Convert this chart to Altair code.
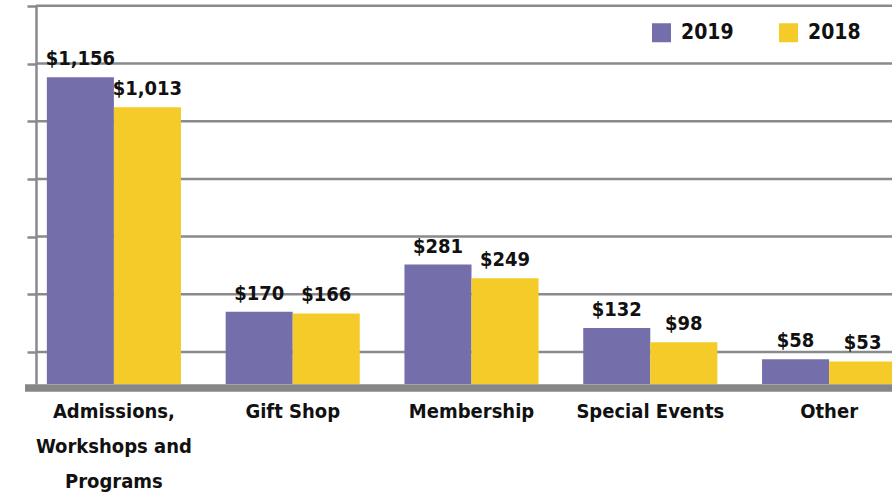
import altair as alt
import pandas as pd

categories = ["Admissions,|Workshops and|Programs", "Gift Shop", "Membership", "Special Events", "Other"]
years = ["2019", "2018"]
values_2019 = [1156, 170, 281, 132, 58]
values_2018 = [1013, 166, 249, 98, 53]
grid_ticks = [0, 1, 2, 3, 4, 5, 6]

PURPLE = "#746eab"
YELLOW = "#f5cb29"
GRAY = "#8a8a8c"
FONT = "DejaVu Sans Condensed"

rows = []
for c, a, b in zip(categories, values_2019, values_2018):
    rows.append({"category": c, "year": "2019", "value": a})
    rows.append({"category": c, "year": "2018", "value": b})
df = pd.DataFrame(rows)
grid_df = pd.DataFrame({"g": grid_ticks})

W, H = 856, 379

xscale = alt.Scale(domain=categories, range=[-11.5, 882.5], paddingInner=0.25, paddingOuter=0.125)
yscale = alt.Scale(domain=[0, 300, 1200], range=[H, H - 127.5, H - 316], nice=False, zero=False)

grid = alt.Chart(grid_df).mark_rule(color=GRAY, strokeWidth=2.5).encode(
    y=alt.Y("g:Q", scale=alt.Scale(domain=[-0.555, 6.015], nice=False, zero=False),
            axis=alt.Axis(orient="left", values=grid_ticks, labels=False, ticks=True, tickSize=9,
                          tickWidth=2.5, tickColor=GRAY, domain=True, domainWidth=2.5,
                          domainColor=GRAY, grid=False, title=None)),
    x=alt.value(0),
    x2=alt.value(W),
)

base = alt.Chart(df).encode(
    x=alt.X("category:N", scale=xscale, sort=categories,
            axis=alt.Axis(title=None, ticks=False, domainWidth=7.5, domainColor="#868688",
                          offset=3.5, labelAngle=0, labelFont=FONT, labelFontSize=20,
                          labelFontWeight="bold", labelColor="#111111", labelPadding=14,
                          labelLineHeight=35, labelBaseline="top",
                          labelExpr="split(datum.label, '|')")),
    xOffset=alt.XOffset("year:N", sort=years, scale=alt.Scale(domain=years, paddingInner=0, paddingOuter=0)),
)

bars = base.mark_bar().encode(
    y=alt.Y("value:Q", scale=yscale, axis=None),
    color=alt.Color("year:N", scale=alt.Scale(domain=years, range=[PURPLE, YELLOW]),
                    legend=alt.Legend(title=None, orient="none", legendX=615, legendY=17,
                                      direction="horizontal", symbolType="square", symbolSize=361,
                                      symbolStrokeWidth=0, symbolOpacity=1, labelFont=FONT,
                                      labelFontSize=21, labelFontWeight="bold", labelColor="#111111",
                                      labelOffset=9, columnPadding=44, padding=0)),
)

labels = base.mark_text(font=FONT, fontSize=20, fontWeight="bold", color="#111111",
                        baseline="bottom", dy=-8).transform_calculate(
    label="'$' + format(datum.value, ',')"
).encode(
    y=alt.Y("value:Q", scale=yscale, axis=None),
    text="label:N",
)

chart = alt.layer(grid, bars, labels).resolve_scale(y="independent").properties(
    width=W, height=H,
    autosize=alt.AutoSizeParams(type="none"),
    padding={"left": 36, "top": 5, "right": 0, "bottom": 116},
).configure_view(stroke=None)

chart.save("out.html", embed_options={"renderer": "svg", "actions": False})
